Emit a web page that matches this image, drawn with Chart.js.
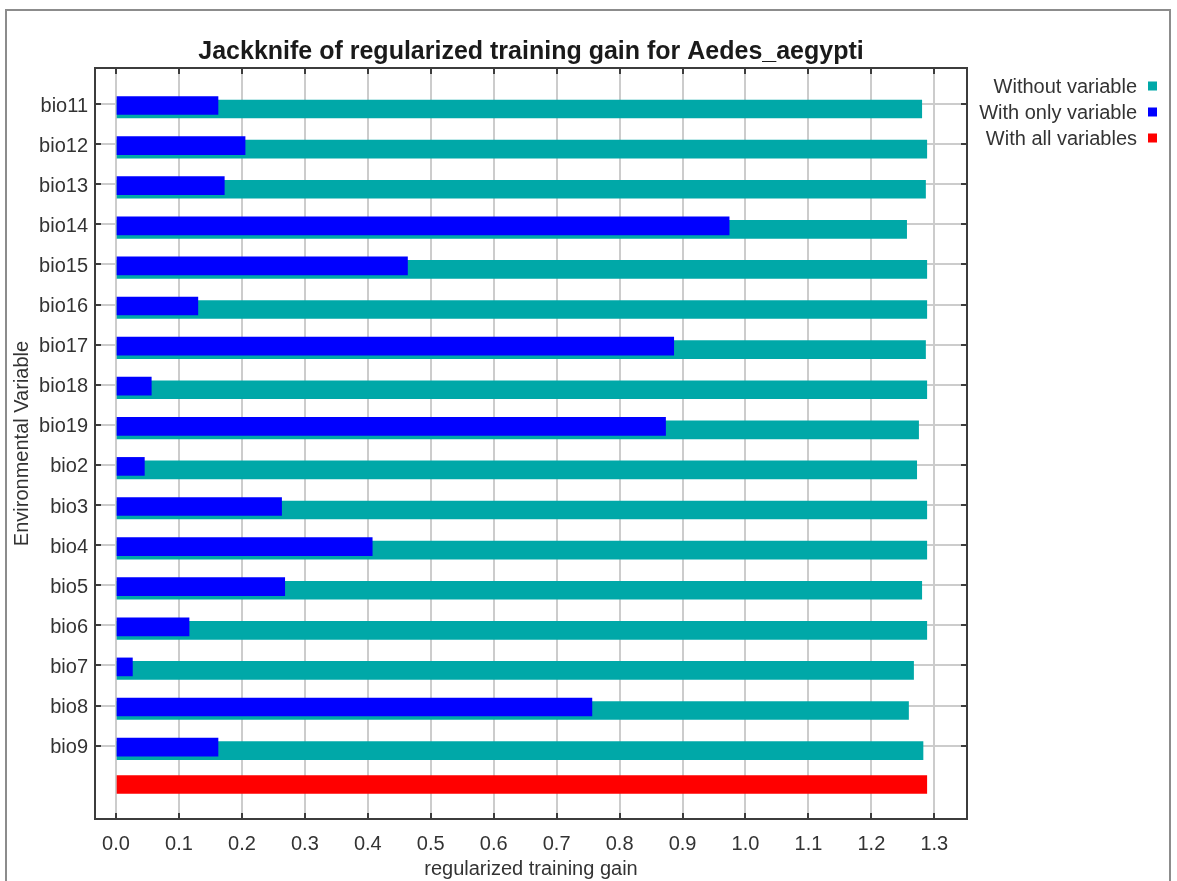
<!DOCTYPE html>
<html>
<head>
<meta charset="utf-8">
<script src="https://cdn.jsdelivr.net/npm/chart.js@4.4.0/dist/chart.umd.min.js"></script>
<style>
  html, body { margin: 0; padding: 0; background: #ffffff; }
  #wrap { width: 1177px; height: 881px; position: relative; overflow: hidden; }
</style>
</head>
<body>
<div id="wrap"><canvas id="c" width="1177" height="881"></canvas></div>
<script>
// ---- data ----
const variables = ['bio11','bio12','bio13','bio14','bio15','bio16','bio17','bio18','bio19','bio2','bio3','bio4','bio5','bio6','bio7','bio8','bio9'];
const withoutVariable = [1.280, 1.288, 1.286, 1.256, 1.288, 1.288, 1.286, 1.288, 1.275, 1.272, 1.288, 1.288, 1.280, 1.288, 1.267, 1.259, 1.282];
const withOnlyVariable = [0.162, 0.205, 0.172, 0.974, 0.463, 0.130, 0.886, 0.056, 0.873, 0.045, 0.263, 0.407, 0.268, 0.116, 0.026, 0.756, 0.162];
const withAllVariables = [1.288];
const xTickValues = [0.0, 0.1, 0.2, 0.3, 0.4, 0.5, 0.6, 0.7, 0.8, 0.9, 1.0, 1.1, 1.2, 1.3];
const seriesNames = ['Without variable', 'With only variable', 'With all variables'];
const seriesColors = ['#00a8a8', '#0000ff', '#ff0000'];

// ---- style / layout constants ----
const FONT = "'Liberation Sans', Arial, sans-serif";
const BLUE_SHIFT = 0.037, TEAL_SHIFT = 0.125, RED_SHIFT = -0.03;

Chart.defaults.font.family = FONT;
Chart.defaults.color = '#333333';

const decorPlugin = {
  id: 'decor',
  beforeDraw(chart) {
    const ctx = chart.ctx;
    ctx.save();
    ctx.fillStyle = '#ffffff';
    ctx.fillRect(0, 0, chart.width, chart.height);
    ctx.strokeStyle = '#8c8c8c';
    ctx.lineWidth = 2;
    ctx.strokeRect(6, 10, 1164, 900);
    ctx.restore();
  },
  afterDatasetsDraw(chart) {
    const {ctx, chartArea: a, scales} = chart;
    const xs = scales.x, ys = scales.y;
    ctx.save();
    ctx.strokeStyle = '#3c3c3c';
    ctx.lineWidth = 2;
    ctx.strokeRect(a.left, a.top, a.right - a.left, a.bottom - a.top);
    ctx.beginPath();
    xs.ticks.forEach(t => {
      const px = Math.round(xs.getPixelForValue(t.value));
      ctx.moveTo(px, a.top); ctx.lineTo(px, a.top + 6);
      ctx.moveTo(px, a.bottom); ctx.lineTo(px, a.bottom - 6);
    });
    ys.ticks.forEach(t => {
      const py = Math.round(ys.getPixelForValue(t.value));
      ctx.moveTo(a.left, py); ctx.lineTo(a.left + 6, py);
      ctx.moveTo(a.right, py); ctx.lineTo(a.right - 6, py);
    });
    ctx.stroke();

    // legend (right side, text right-aligned, swatch on the right)
    ctx.font = '20px ' + FONT;
    ctx.textAlign = 'right';
    ctx.textBaseline = 'middle';
    seriesNames.forEach((name, i) => {
      const cy = 87 + i * 26;
      ctx.fillStyle = '#333333';
      ctx.fillText(name, 1137, cy);
      ctx.fillStyle = seriesColors[i];
      ctx.fillRect(1148, cy - 5.5, 9, 9);
    });
    ctx.restore();
  }
};

new Chart(document.getElementById('c'), {
  type: 'bar',
  data: {
    datasets: [
      {
        label: seriesNames[1],
        data: withOnlyVariable.map((v, i) => ({x: v, y: i + BLUE_SHIFT})),
        backgroundColor: seriesColors[1],
        order: 0
      },
      {
        label: seriesNames[0],
        data: withoutVariable.map((v, i) => ({x: v, y: i + TEAL_SHIFT})),
        backgroundColor: seriesColors[0],
        order: 1
      },
      {
        label: seriesNames[2],
        data: withAllVariables.map(v => ({x: v, y: variables.length + RED_SHIFT})),
        backgroundColor: seriesColors[2],
        order: 2
      }
    ]
  },
  options: {
    indexAxis: 'y',
    responsive: false,
    animation: false,
    events: [],
    datasets: { bar: { barThickness: 18, grouped: false, borderWidth: 0 } },
    layout: { padding: { top: 20, right: 210, bottom: 0, left: 0 } },
    plugins: {
      legend: { display: false },
      tooltip: { enabled: false },
      title: {
        display: true,
        fullSize: false,
        text: 'Jackknife of regularized training gain for Aedes_aegypti',
        font: { size: 25, weight: 'bold', family: FONT },
        color: '#1a1a1a',
        padding: { top: 17, bottom: 1 }
      }
    },
    scales: {
      x: {
        type: 'linear',
        position: 'bottom',
        offset: false,
        min: -0.0334,
        max: 1.3519,
        afterBuildTicks: axis => { axis.ticks = xTickValues.map(v => ({value: v})); },
        afterFit: axis => { axis.height = 62; },
        ticks: {
          autoSkip: false,
          maxRotation: 0,
          padding: 13,
          font: { size: 20 },
          color: '#333333',
          callback: v => Number(v).toFixed(1)
        },
        grid: { color: '#cccccc', lineWidth: 2, drawTicks: false, offset: false },
        border: { display: false },
        title: {
          display: true,
          text: 'regularized training gain',
          font: { size: 20 },
          color: '#333333',
          padding: { top: 0, bottom: 0 }
        }
      },
      y: {
        type: 'linear',
        reverse: true,
        offset: false,
        min: -0.898,
        max: 17.83,
        afterBuildTicks: axis => { axis.ticks = variables.map((_, i) => ({value: i})); },
        afterFit: axis => { axis.width = 95; },
        ticks: {
          autoSkip: false,
          padding: 7,
          labelOffset: 2,
          font: { size: 20 },
          color: '#333333',
          callback: v => variables[v]
        },
        grid: { color: '#cccccc', lineWidth: 2, drawTicks: false, offset: false },
        border: { display: false },
        title: {
          display: true,
          text: 'Environmental Variable',
          font: { size: 20 },
          color: '#333333',
          padding: { top: 10, bottom: 0 }
        }
      }
    }
  },
  plugins: [decorPlugin]
});
</script>
</body>
</html>
